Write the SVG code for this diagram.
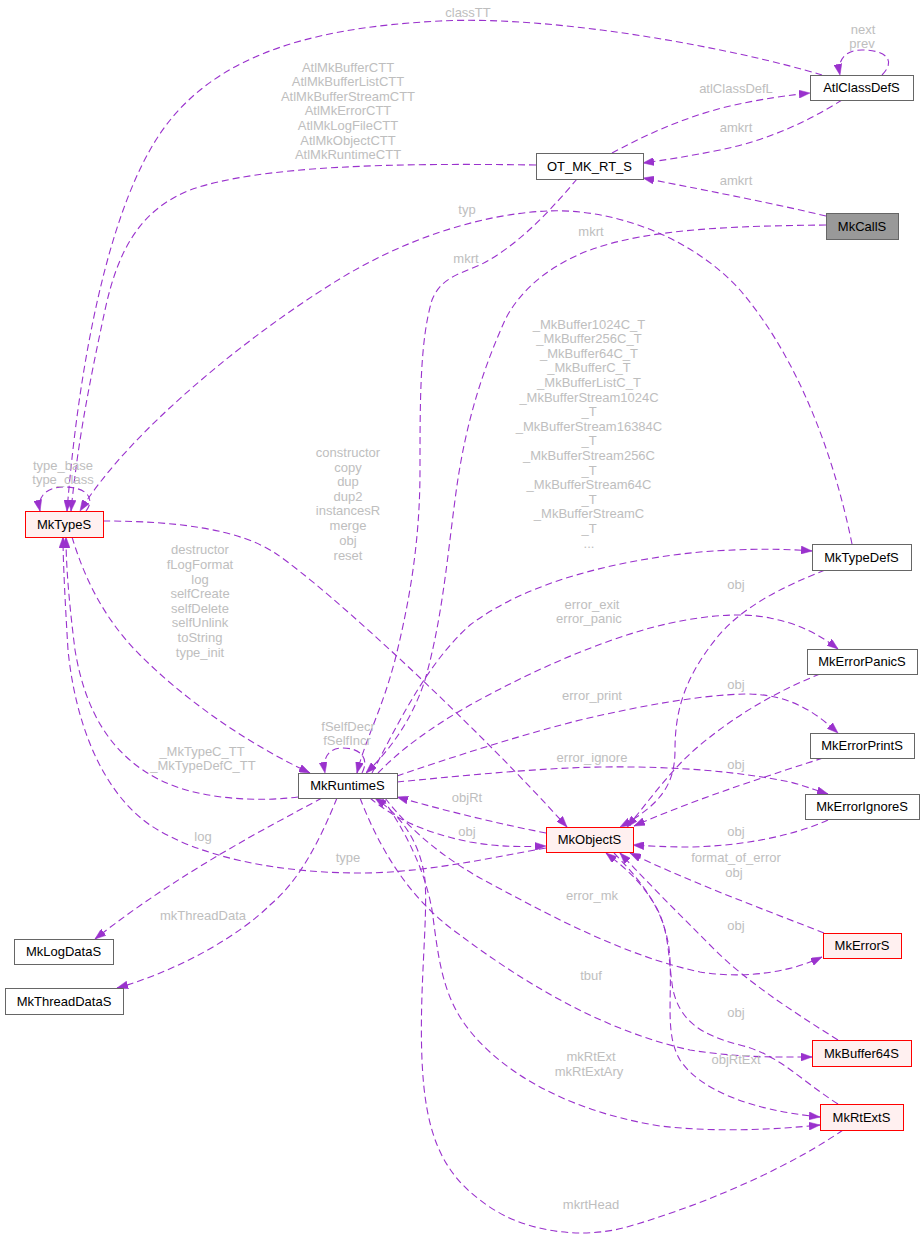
<svg xmlns="http://www.w3.org/2000/svg" width="924" height="1239" viewBox="0 0 924 1239">
<style>
.bg{fill:#ffffff}
.n rect{fill:#ffffff;stroke:#666666;stroke-width:1}
.n.r rect{fill:#fff0f0;stroke:#ff0000}
.n.g rect{fill:#999999;stroke:#666666}
.n text{font-family:"Liberation Sans",Arial,sans-serif;font-size:13px;fill:#000000;text-anchor:middle}
.e path{fill:none;stroke:#9a32cd;stroke-width:1.1;stroke-dasharray:7,4;marker-end:url(#a)}
.lb text{font-family:"Liberation Sans",Arial,sans-serif;font-size:13px;fill:#bebebe;text-anchor:middle}
</style>
<defs>
<marker id="a" viewBox="0 0 11 8" refX="11" refY="4" markerWidth="11" markerHeight="8" markerUnits="userSpaceOnUse" orient="auto">
<path d="M0,0 L11,4 L0,8 z" fill="#9a32cd" stroke="#9a32cd" stroke-width="0.5"/>
</marker>
</defs>
<rect class="bg" x="0" y="0" width="924" height="1239"/>
<g id="connectors" class="e">
<path d="M822,75 C740,50 560,15 440,21 C300,28 200,60 150,150 C110,220 80,350 67,511"/>
<path d="M536,165 C400,163 260,165 190,190 C140,210 118,250 105,310 C90,380 78,440 71,511"/>
<path d="M882,75 C897,60 885,50 862,50 C845,50 837,60 840,75"/>
<path d="M612,153 C640,138 680,118 730,106 C760,99 790,95 810,93"/>
<path d="M842,100 C810,120 770,140 720,150 C690,156 665,160 643,163"/>
<path d="M826,216 C780,205 720,193 643,178"/>
<path d="M826,225 C740,226 650,228 590,250 C550,265 520,290 505,320 C485,365 465,420 455,500 C447,560 442,620 425,680 C412,720 390,750 366,773"/>
<path d="M577,179 C555,205 520,245 480,265 C455,275 440,280 432,300 C420,340 420,400 420,470 C420,540 410,600 395,660 C382,710 365,740 357,773"/>
<path d="M852,544 C835,460 800,360 740,290 C690,235 610,208 547,211 C480,214 400,240 330,285 C250,335 130,430 80,511"/>
<path d="M86,511 C96,498 86,487 64,487 C46,487 37,497 40,511"/>
<path d="M103,521 C180,521 240,530 275,553 C330,590 480,730 567,827"/>
<path d="M72,537 C85,580 105,620 140,655 C180,695 240,740 310,773"/>
<path d="M298,797 C260,802 200,800 160,780 C110,755 85,710 75,650 C70,610 66,570 66,537"/>
<path d="M546,848 C480,860 420,873 360,873 C280,873 200,858 150,825 C100,790 75,720 68,650 C65,600 63,560 63,537"/>
<path d="M322,798 C270,826 180,872 95,939"/>
<path d="M337,798 C320,840 300,880 270,905 C240,935 180,970 117,988"/>
<path d="M362,773 C370,758 360,748 343,748 C330,748 322,756 325,773"/>
<path d="M372,773 C395,730 425,665 470,625 C530,580 620,560 700,552 C750,548 790,549 812,551"/>
<path d="M378,773 C400,750 430,728 470,705 C530,672 590,645 650,628 C700,615 740,612 770,618 C800,624 820,635 838,649"/>
<path d="M397,776 C450,758 510,738 580,720 C640,706 700,695 745,694 C790,694 815,712 838,733"/>
<path d="M397,782 C470,775 540,768 600,767 C680,766 740,772 790,782 C805,786 815,790 828,794"/>
<path d="M546,833 C500,824 450,812 397,797"/>
<path d="M370,798 C390,815 420,832 470,842 C500,847 520,847 546,846"/>
<path d="M385,798 C410,830 440,855 480,878 C540,910 620,955 700,972 C750,980 795,970 822,957"/>
<path d="M360,798 C380,850 410,900 460,935 C520,980 600,1030 690,1050 C740,1058 780,1057 812,1057"/>
<path d="M382,798 C405,830 425,870 432,910 C437,945 440,985 460,1017 C490,1065 560,1110 660,1126 C720,1133 780,1129 820,1125"/>
<path d="M843,1130 C800,1160 720,1200 627,1227 C580,1240 520,1232 480,1200 C440,1170 425,1130 422,1060 C419,990 428,920 425,880 C420,840 400,815 375,798"/>
<path d="M825,570 C780,588 740,608 715,640 C685,678 675,710 675,750 C675,785 660,805 620,827"/>
<path d="M820,674 C780,690 740,712 700,745 C670,770 650,800 627,827"/>
<path d="M823,758 C780,772 700,797 634,826"/>
<path d="M828,820 C790,837 740,846 690,847 C665,847 650,846 633,845"/>
<path d="M824,933 C760,908 690,882 630,853"/>
<path d="M838,1040 C790,1010 745,980 715,950 C680,915 650,885 620,853"/>
<path d="M838,1104 C800,1080 780,1055 740,1045 C700,1035 680,1020 673,990 C668,960 670,930 655,905 C640,880 625,868 606,853"/>
<path d="M614,853 C645,885 668,915 670,960 C672,1000 665,1035 680,1060 C700,1090 750,1110 820,1117"/>
</g>
<g id="labels" class="lb">
<text x="468" y="16.5">classTT</text>
<text x="348" y="71.5">AtlMkBufferCTT</text>
<text x="348" y="85.5">AtlMkBufferListCTT</text>
<text x="348" y="100.5">AtlMkBufferStreamCTT</text>
<text x="348" y="114.5">AtlMkErrorCTT</text>
<text x="348" y="129.5">AtlMkLogFileCTT</text>
<text x="348" y="144.5">AtlMkObjectCTT</text>
<text x="348" y="158.5">AtlMkRuntimeCTT</text>
<text x="863" y="33.5">next</text>
<text x="862" y="47.5">prev</text>
<text x="736" y="92.5">atlClassDefL</text>
<text x="736" y="131.5">amkrt</text>
<text x="736" y="184.5">amkrt</text>
<text x="467" y="213.5">typ</text>
<text x="591" y="235.5">mkrt</text>
<text x="466" y="262.5">mkrt</text>
<text x="589" y="328.5">_MkBuffer1024C_T</text>
<text x="589" y="343">_MkBuffer256C_T</text>
<text x="589" y="357.5">_MkBuffer64C_T</text>
<text x="589" y="372">_MkBufferC_T</text>
<text x="589" y="386.5">_MkBufferListC_T</text>
<text x="589" y="401.5">_MkBufferStream1024C</text>
<text x="589" y="416">_T</text>
<text x="589" y="430.5">_MkBufferStream16384C</text>
<text x="589" y="445">_T</text>
<text x="589" y="460">_MkBufferStream256C</text>
<text x="589" y="474.5">_T</text>
<text x="589" y="489">_MkBufferStream64C</text>
<text x="589" y="503.5">_T</text>
<text x="589" y="518">_MkBufferStreamC</text>
<text x="589" y="533">_T</text>
<text x="589" y="547.5">...</text>
<text x="63" y="469.5">type_base</text>
<text x="63" y="483.5">type_class</text>
<text x="348" y="456.5">constructor</text>
<text x="348" y="471.5">copy</text>
<text x="348" y="485.5">dup</text>
<text x="348" y="500.5">dup2</text>
<text x="348" y="514.5">instancesR</text>
<text x="348" y="529.5">merge</text>
<text x="348" y="544.5">obj</text>
<text x="348" y="559.5">reset</text>
<text x="200" y="553.5">destructor</text>
<text x="200" y="568.5">fLogFormat</text>
<text x="200" y="583.5">log</text>
<text x="200" y="597.5">selfCreate</text>
<text x="200" y="612.5">selfDelete</text>
<text x="200" y="626.5">selfUnlink</text>
<text x="200" y="641.5">toString</text>
<text x="200" y="656.5">type_init</text>
<text x="736" y="588.5">obj</text>
<text x="592" y="608.5">error_exit</text>
<text x="589" y="622.5">error_panic</text>
<text x="736" y="688.5">obj</text>
<text x="592" y="699.5">error_print</text>
<text x="348" y="730.5">fSelfDecr</text>
<text x="347" y="744.5">fSelfIncr</text>
<text x="202" y="755.5">_MkTypeC_TT</text>
<text x="203" y="769.5">_MkTypeDefC_TT</text>
<text x="592" y="761.5">error_ignore</text>
<text x="736" y="768.5">obj</text>
<text x="467" y="801.5">objRt</text>
<text x="467" y="835.5">obj</text>
<text x="736" y="835.5">obj</text>
<text x="203" y="840.5">log</text>
<text x="348" y="861.5">type</text>
<text x="736" y="861.5">format_of_error</text>
<text x="734" y="876.5">obj</text>
<text x="592" y="899.5">error_mk</text>
<text x="203" y="919.5">mkThreadData</text>
<text x="736" y="929.5">obj</text>
<text x="591" y="979.5">tbuf</text>
<text x="736" y="1016.5">obj</text>
<text x="591" y="1060.5">mkRtExt</text>
<text x="589" y="1075.5">mkRtExtAry</text>
<text x="736" y="1063.5">objRtExt</text>
<text x="591" y="1208.5">mkrtHead</text>
</g>
<g id="AtlClassDefS" class="n"><rect x="810.5" y="75.5" width="103" height="25"/><text x="861.5" y="92">AtlClassDefS</text></g>
<g id="OT_MK_RT_S" class="n"><rect x="536.5" y="153.5" width="107" height="26"/><text x="589.5" y="170.5">OT_MK_RT_S</text></g>
<g id="MkCallS" class="n g"><rect x="826.5" y="213.5" width="72" height="26"/><text x="862" y="230.5">MkCallS</text></g>
<g id="MkTypeS" class="n r"><rect x="25.5" y="511.5" width="78" height="26"/><text x="64" y="528.5">MkTypeS</text></g>
<g id="MkTypeDefS" class="n"><rect x="812.5" y="544.5" width="99" height="26"/><text x="861.5" y="561.5">MkTypeDefS</text></g>
<g id="MkErrorPanicS" class="n"><rect x="807.5" y="649.5" width="110" height="25"/><text x="862" y="666">MkErrorPanicS</text></g>
<g id="MkErrorPrintS" class="n"><rect x="810.5" y="733.5" width="104" height="25"/><text x="862" y="750">MkErrorPrintS</text></g>
<g id="MkErrorIgnoreS" class="n"><rect x="805.5" y="794.5" width="114" height="25"/><text x="862" y="811">MkErrorIgnoreS</text></g>
<g id="MkObjectS" class="n r"><rect x="546.5" y="827.5" width="87" height="25"/><text x="589.5" y="844">MkObjectS</text></g>
<g id="MkErrorS" class="n r"><rect x="823.5" y="933.5" width="78" height="25"/><text x="862" y="950">MkErrorS</text></g>
<g id="MkBuffer64S" class="n r"><rect x="812.5" y="1040.5" width="99" height="26"/><text x="861.5" y="1057.5">MkBuffer64S</text></g>
<g id="MkRtExtS" class="n r"><rect x="820.5" y="1104.5" width="83" height="26"/><text x="861.5" y="1121.5">MkRtExtS</text></g>
<g id="MkRuntimeS" class="n"><rect x="298.5" y="773.5" width="99" height="25"/><text x="347.5" y="790">MkRuntimeS</text></g>
<g id="MkLogDataS" class="n"><rect x="14.5" y="939.5" width="99" height="25"/><text x="63.5" y="956">MkLogDataS</text></g>
<g id="MkThreadDataS" class="n"><rect x="5.5" y="988.5" width="118" height="26"/><text x="64" y="1005.5">MkThreadDataS</text></g>
</svg>
